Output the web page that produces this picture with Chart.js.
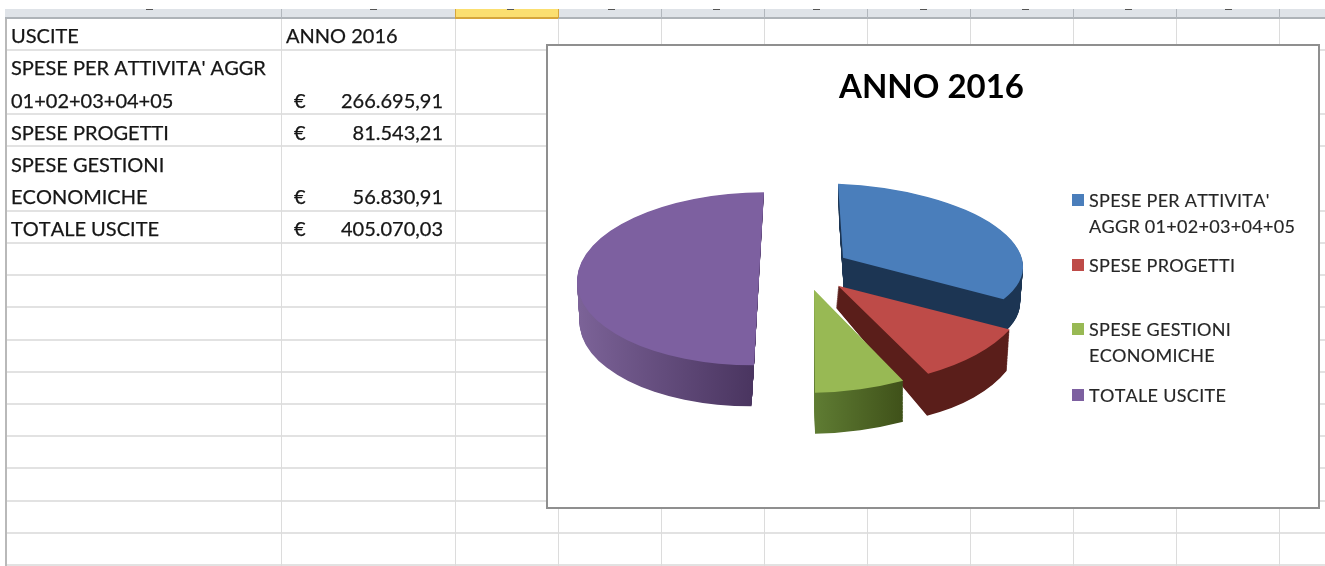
<!DOCTYPE html>
<html lang="it">
<head>
<meta charset="utf-8">
<title>ANNO 2016</title>
<script src="https://cdn.jsdelivr.net/npm/chart.js@4"></script>
<style>
    html, body { margin: 0; padding: 0; background: #fff; }
    #sheet { position: relative; width: 1325px; height: 566px; overflow: hidden; font-family: Lato, sans-serif; color: #161616; filter: blur(0.4px); font-kerning: none; }
    #sheet div { position: absolute; white-space: nowrap; }
    .cell { font-size: 20px; line-height: 24px; -webkit-text-stroke: 0.25px #161616; }
    #frame { left: 547px; top: 45px; width: 772px; height: 463px; background: #fff; outline: 2px solid #8f8f8f; outline-offset: -1px; }
    #frame canvas { position: absolute; left: 0; top: 0; }
    .legend-text { font-size: 18px; line-height: 24px; letter-spacing: 0.3px; color: #262626; -webkit-text-stroke: 0.15px #262626; }
</style>
</head>
<body>
<div id="sheet"></div>
<script>
const categories = ["SPESE PER ATTIVITA' AGGR 01+02+03+04+05", 'SPESE PROGETTI', 'SPESE GESTIONI ECONOMICHE', 'TOTALE USCITE'];
const values = [266695.91, 81543.21, 56830.91, 405070.03];
const chartTitle = 'ANNO 2016';
const topColors = ['#4a7ebb', '#be4b48', '#98b954', '#7d60a0'];
const sideColors = [['#1c3553', '#1c3553'], ['#5a1e1a', '#5a1e1a'], ['#5f7c33', '#3f5119'], ['#7c6398', '#4a3560']];

// one legend row per printed line, the swatch sits on the first line of each entry
const legendLines = [
    ["SPESE PER ATTIVITA'", 0, 200],
    ['AGGR 01+02+03+04+05', null, 226],
    ['SPESE PROGETTI', 1, 265],
    ['SPESE GESTIONI', 2, 329],
    ['ECONOMICHE', null, 355],
    ['TOTALE USCITE', 3, 395],
];

const tableCells = [
    ['USCITE', 11, 35],
    ['ANNO 2016', 286, 35],
    ["SPESE PER ATTIVITA' AGGR", 11, 67],
    ['01+02+03+04+05', 11, 100],
    ['SPESE PROGETTI', 11, 132],
    ['SPESE GESTIONI', 11, 164],
    ['ECONOMICHE', 11, 196],
    ['TOTALE USCITE', 11, 228],
];
const amountLabels = [['266.695,91', 100], ['81.543,21', 132], ['56.830,91', 196], ['405.070,03', 228]];

const columnLines = [281, 455, 558, 661, 764, 867, 970, 1073, 1176, 1279];
const rowLines = [50, 114, 146, 211, 243, 275, 307, 340, 372, 404, 436, 468, 501, 533, 565];
const headerMarks = [146, 370, 507, 608, 713, 813, 920, 1022, 1125, 1225];

// exploded 3D look: each slice gets its own projection of the unit pie,
// d = shift from the pie centre, a/b = screen vectors of the pie's x and y radius
const PIE_SHIFT_X = -172.5;
const topFaces = [
    { dx: 84, dy: -21, ax: 180, ay: 7, bx: 5, by: 74 },
    { dx: 79, dy: 7, ax: 190, ay: -4, bx: 10, by: 99 },
    { dx: 55, dy: 11, ax: 207, ay: -5, bx: 1, by: 103 },
    { dx: 0, dy: 0, ax: 182, ay: 0, bx: -5, by: 86.5 },
];
const bottomFaces = [
    { dx: 85, dy: 15, ax: 176, ay: 7, bx: 5, by: 74 },
    { dx: 77, dy: 29, ax: 188, ay: 9, bx: 12, by: 115 },
    { dx: 55, dy: 52, ax: 207, ay: -5, bx: 1, by: 103 },
    { dx: -3.5, dy: 41, ax: 176, ay: 0, bx: -4, by: 86.5 },
];
const SIDE_LAYERS = 50;

const sheet = document.getElementById('sheet');

function box(left, top, width, height, color) {
    const d = document.createElement('div');
    d.style.cssText = `left:${left}px;top:${top}px;width:${width}px;height:${height}px;background:${color}`;
    sheet.appendChild(d);
    return d;
}

function label(text, left, centerY, cls) {
    const d = document.createElement('div');
    d.className = cls;
    d.textContent = text;
    d.style.left = left + 'px';
    d.style.top = (centerY - 12) + 'px';
    sheet.appendChild(d);
    return d;
}

function buildSheet() {
    rowLines.forEach((y) => box(6, y - 1, 1319, 2, '#e2e2e2'));
    columnLines.forEach((x) => box(x, 18, 1, 548, '#dcdcdc'));
    box(5, 18, 2, 548, '#b9b9b9');

    box(5, 9, 1320, 9, '#dfe3e8');
    box(5, 17, 1320, 2, '#aeb3b8');
    columnLines.forEach((x) => box(x, 9, 1, 9, '#b2b7bd'));
    box(455, 9, 103, 9, '#fbdf70');
    box(455, 17, 103, 2, '#d6a63c');
    box(455, 9, 1, 9, '#d6a63c');
    box(558, 9, 1, 9, '#d6a63c');
    headerMarks.forEach((x) => box(x, 9, 7, 1, '#555'));

    tableCells.forEach(([text, x, y]) => label(text, x, y, 'cell'));
    amountLabels.forEach(([text, y]) => {
        label('€', 294, y, 'cell');
        const d = label(text, 0, y, 'cell');
        d.style.left = 'auto';
        d.style.right = (1325 - 443) + 'px';
    });
}

function buildChartFrame() {
    const frame = document.createElement('div');
    frame.id = 'frame';
    const canvas = document.createElement('canvas');
    canvas.width = 772;
    canvas.height = 463;
    frame.appendChild(canvas);
    sheet.appendChild(frame);

    legendLines.forEach(([text, colorIndex, y]) => {
        if (colorIndex !== null) {
            box(1072, y - 6, 12, 12, topColors[colorIndex]);
        }
        label(text, 1089, y, 'legend-text');
    });
    return canvas;
}

function applyFace(ctx, arc, face) {
    const R = arc.outerRadius;
    ctx.translate(arc.x + PIE_SHIFT_X + face.dx, arc.y + face.dy);
    ctx.transform(face.ax / R, face.ay / R, face.bx / R, face.by / R, 0, 0);
    ctx.translate(-arc.x, -arc.y);
}

function lerpFace(a, b, t) {
    const out = {};
    Object.keys(a).forEach((k) => { out[k] = a[k] + (b[k] - a[k]) * t; });
    return out;
}

function sideGradient(ctx, arc, colors) {
    const R = arc.outerRadius;
    let min = 0;
    let max = 0;
    for (let i = 0; i <= 24; i++) {
        const c = Math.cos(arc.startAngle + (arc.endAngle - arc.startAngle) * i / 24);
        min = Math.min(min, c);
        max = Math.max(max, c);
    }
    const g = ctx.createLinearGradient(arc.x + min * R, 0, arc.x + max * R, 0);
    g.addColorStop(0, colors[0]);
    g.addColorStop(1, colors[1]);
    return g;
}

function drawArcWith(ctx, arc, fill) {
    const copy = Object.create(arc);
    copy.options = Object.assign({}, arc.options, { backgroundColor: fill });
    copy.draw(ctx);
}

const extrudedPie = {
    id: 'extrudedPie',
    beforeDatasetDraw(chart, args) {
        const { ctx } = chart;
        args.meta.data.forEach((arc, i) => {
            const fill = sideGradient(ctx, arc, sideColors[i]);
            for (let n = SIDE_LAYERS; n >= 1; n--) {
                ctx.save();
                applyFace(ctx, arc, lerpFace(topFaces[i], bottomFaces[i], n / SIDE_LAYERS));
                drawArcWith(ctx, arc, fill);
                ctx.restore();
            }
            ctx.save();
            applyFace(ctx, arc, topFaces[i]);
            arc.draw(ctx);
            ctx.restore();
        });
        return false;
    },
};

buildSheet();

new Chart(buildChartFrame(), {
    type: 'pie',
    data: {
        labels: categories,
        datasets: [{
            data: values,
            backgroundColor: topColors,
            borderWidth: 0,
        }],
    },
    options: {
        responsive: false,
        animation: false,
        layout: { padding: { left: 0, right: 3, top: 0, bottom: 58 } },
        plugins: {
            legend: { display: false },
            tooltip: { enabled: false },
            title: {
                display: true,
                text: chartTitle,
                color: '#000',
                font: { family: 'Lato', size: 33, weight: 'bold' },
                padding: { top: 23, bottom: 0 },
            },
        },
    },
    plugins: [extrudedPie],
});
</script>
</body>
</html>
